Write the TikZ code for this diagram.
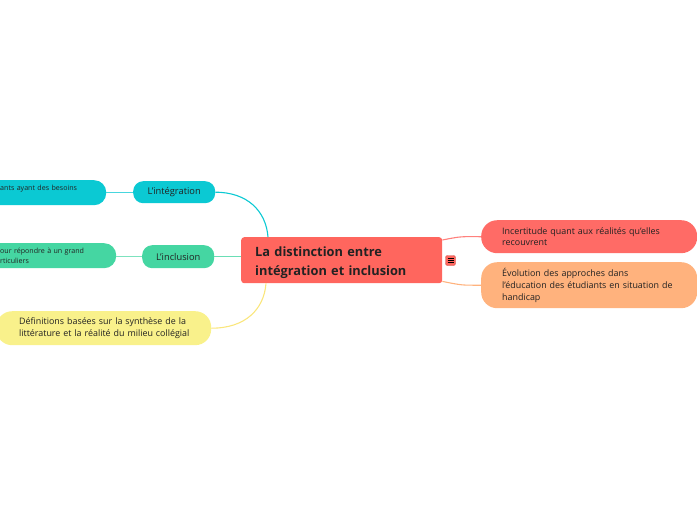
\documentclass[tikz,border=0pt]{standalone}
\usepackage{fontspec}
\setmainfont{Open Sans}
\usetikzlibrary{calc}

\definecolor{rootred}{HTML}{FF665E}
\definecolor{incred}{HTML}{FF6B66}
\definecolor{evoorange}{HTML}{FFB27D}
\definecolor{integcyan}{HTML}{0BC9D3}
\definecolor{inclgreen}{HTML}{45D6A2}
\definecolor{defyellow}{HTML}{F9F18B}
\definecolor{inktext}{HTML}{222222}

\begin{document}
\begin{tikzpicture}[x=1pt,y=-1pt,
  every node/.style={text=inktext,inner ysep=0pt},
  topicbox/.style={fill=rootred,rounded corners=3pt,anchor=north west,
    align=left,font=\fontsize{12.8}{18.5}\selectfont\bfseries},
  pillbox/.style={anchor=north west,align=left,
    font=\fontsize{8.9}{11.8}\selectfont},
  tinybox/.style={anchor=north west,align=left,
    font=\fontsize{7.1}{10}\selectfont},
  link/.style={line width=1.1pt}]
  \useasboundingbox (0,0) rectangle (697,520);
  \clip (0,0) rectangle (697,520);

  % central topic
  \node[topicbox,inner xsep=14pt,text width=173pt,minimum height=46pt]
    (root) at (241,237) {\rule{0pt}{15pt}La distinction entre\\intégration et inclusion};
  \node[fill=rootred,draw=rootred!80!black,line width=0.4pt,rounded corners=2pt,
    minimum width=10pt,minimum height=10pt,inner sep=0pt] (menu) at (450.5,260.5) {};
  \foreach \dy in {-2.2,0,2.2}
    \draw[line width=0.8pt,black] ($(menu.center)+(-3,\dy)$) -- ($(menu.center)+(3,\dy)$);

  % right side
  \node[pillbox,fill=incred,rounded corners=16pt,inner xsep=21pt,text width=174pt,
    minimum height=33pt] (incert) at (481,220)
    {Incertitude quant aux réalités qu'elles\\recouvrent};
  \node[pillbox,fill=evoorange,rounded corners=16pt,inner xsep=21pt,text width=174pt,
    minimum height=46pt] (evol) at (481,262)
    {Évolution des approches dans\\l'éducation des étudiants en situation de\\handicap};

  % left side
  \node[pillbox,fill=integcyan,rounded corners=10pt,minimum width=82pt,
    minimum height=22pt,align=center,font=\fontsize{9.3}{11}\selectfont] (integ) at (133,181) {L'intégration};
  \node[pillbox,fill=inclgreen,rounded corners=10pt,minimum width=72pt,
    minimum height=23pt,align=center,font=\fontsize{9.3}{11}\selectfont] (incl) at (142,245) {L'inclusion};
  \node[tinybox,fill=integcyan,rounded corners=12pt,inner xsep=20pt,text width=86pt,
    minimum height=25pt] (integsub) at (-20,180) {ants ayant des besoins\\~};
  \node[tinybox,fill=inclgreen,rounded corners=12pt,inner xsep=20pt,text width=96pt,
    minimum height=25pt] (inclsub) at (-20,243) {our répondre à un grand\\rticuliers};
  \node[pillbox,fill=defyellow,rounded corners=16pt,inner xsep=19pt,text width=177pt,
    minimum height=34pt] (defs) at (-4,311)
    {\hspace*{4pt}Définitions basées sur la synthèse de la\\\hspace*{4pt}littérature et la réalité du milieu collégial};

  % connectors
  \draw[link,incred!85] ($(root.north east)+(0,3)$) .. controls +(20,-4) and +(-20,0) .. (incert.west);
  \draw[link,evoorange] ($(root.south east)+(0,-2)$) .. controls +(20,4) and +(-20,0) .. (evol.west);
  \draw[link,integcyan] (integ.east) .. controls +(32,0) and +(-2,-26) .. ($(root.north west)+(27,0)$);
  \draw[link,inclgreen!80] (incl.east) -- (incl.east -| root.west);
  \draw[link,defyellow!90!orange] ($(root.south west)+(25,0)$) .. controls +(-2,26) and +(34,0) .. (defs.east);
  \draw[link,integcyan!75] (integ.west) -- (integ.west -| integsub.east);
  \draw[link,inclgreen!70] (incl.west) -- (incl.west -| inclsub.east);
\end{tikzpicture}
\end{document}
